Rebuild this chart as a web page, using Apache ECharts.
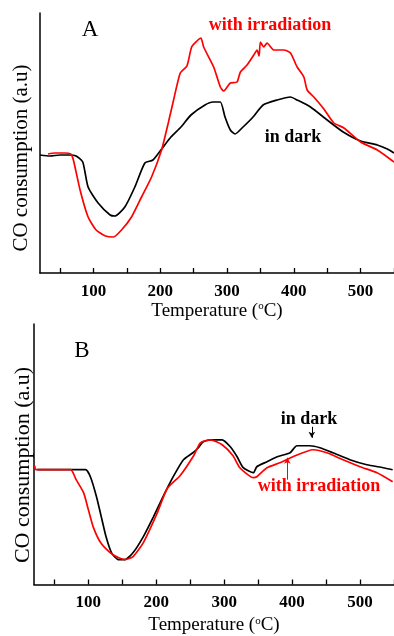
<!DOCTYPE html>
<html>
<head>
<meta charset="utf-8">
<script src="https://cdn.jsdelivr.net/npm/echarts@6/dist/echarts.min.js"></script>
<style>
  html, body { margin: 0; padding: 0; background: #fff; }
  #chart { width: 394px; height: 636px; }
</style>
</head>
<body>
<div id="chart"></div>
<script>
// Panel A: CO-TPR profiles, [temperature (°C), signal (a.u.)]
const darkA = [
  [20,118],[35,117],[50,118],[65,118],[74,117],[84,111],[92,86],[107,70],[125,58],[132,57],
  [147,66],[162,86],[177,110],[189,113],[201,123],[216,136],[231,146],[246,158],[267,168],
  [279,171],[290,171],[297,156],[305,143],[312,139],[324,146],[339,156],[354,168],[375,173],
  [395,176],[405,173],[425,166],[450,153],[474,141],[500,132],[525,128],[540,124],[550,120]
];
const irradA = [
  [32,119],[42,120],[57,120],[66,119],[70,113],[80,83],[92,56],[104,43],[118,37],[130,36],
  [142,43],[157,56],[172,76],[187,96],[202,123],[212,150],[220,173],[230,200],[240,207],
  [247,226],[255,232],[261,235],[265,226],[280,206],[290,186],[295,182],[305,190],[315,191],
  [320,201],[330,208],[340,218],[345,223],[348,217],[350,231],[355,226],[360,230],[370,223],
  [385,223],[395,220],[405,206],[415,196],[420,183],[430,176],[445,164],[460,150],[475,145],
  [500,131],[525,123],[550,111]
];

// Panel B
const darkB = [
  [25,115],[50,115],[75,115],[96,115],[103,108],[112,88],[119,68],[126,48],[134,32],[144,25],
  [154,25],[166,32],[181,48],[196,68],[210,88],[225,108],[240,125],[254,132],[262,137],
  [269,143],[280,145],[297,145],[309,138],[319,128],[328,117],[343,112],[348,118],[363,123],
  [378,128],[397,132],[407,139],[426,139],[441,137],[460,132],[485,125],[510,120],[534,117],
  [548,115]
];
const irradB = [
  [21,119],[23,115],[50,115],[74,115],[82,105],[93,92],[100,75],[107,58],[118,42],[132,32],
  [144,27],[154,25],[166,28],[181,42],[201,71],[216,96],[235,109],[255,129],[265,142],
  [280,145],[297,140],[313,129],[323,117],[343,107],[348,108],[363,117],[382,122],[401,128],
  [431,135],[451,132],[475,125],[500,118],[525,112],[548,103]
];

// Axis ticks and labels
const tickValues = [50,100,150,200,250,300,350,400,450,500,550];
const labelValues = [100,200,300,400,500];

// Annotation arrows in panel B: [temperature, from, to]
const darkArrowB = [429, 158, 147];
const irradArrowB = [393, 105, 127];

const SERIF = '"Liberation Serif", "Times New Roman", "DejaVu Serif", serif';

function xAxisFor(gridIndex) {
  return {
    type: 'value', gridIndex: gridIndex, min: 20, max: 550,
    axisLine: { show: true, onZero: false, lineStyle: { color: '#000', width: 1.5 } },
    axisTick: { show: true, inside: true, length: 5, customValues: tickValues,
                lineStyle: { color: '#000', width: 1.3 } },
    axisLabel: { customValues: labelValues, margin: 10, color: '#000',
                 fontFamily: SERIF, fontSize: 17, fontWeight: 'bold' },
    splitLine: { show: false },
    name: '{n|Temperature (}{s|o}{n|C)}',
    nameLocation: 'middle', nameGap: gridIndex === 0 ? 28 : 31,
    nameTextStyle: {
      rich: {
        n: { fontFamily: SERIF, fontSize: 19, color: '#000', lineHeight: 20 },
        s: { fontFamily: SERIF, fontSize: 11, color: '#000', lineHeight: 9, verticalAlign: 'top' }
      }
    }
  };
}
function yAxisFor(gridIndex, max) {
  return {
    type: 'value', gridIndex: gridIndex, min: 0, max: max,
    axisLine: { show: true, lineStyle: { color: '#000', width: 1.5 } },
    axisTick: { show: false }, axisLabel: { show: false }, splitLine: { show: false }
  };
}
function line(name, data, color, xi) {
  return {
    name: name, type: 'line', xAxisIndex: xi, yAxisIndex: xi, data: data,
    showSymbol: false, smooth: 0.2, silent: true,
    lineStyle: { color: color, width: 1.7 }
  };
}
function arrow(spec, color, xi) {
  return {
    type: 'line', xAxisIndex: xi, yAxisIndex: xi, data: [], silent: true,
    markLine: {
      silent: true, symbol: ['none', 'arrow'], symbolSize: [5, 6], label: { show: false },
      lineStyle: { color: color, width: 1, type: 'solid' },
      data: [[{ coord: [spec[0], spec[1]] }, { coord: [spec[0], spec[2]] }]]
    }
  };
}
function txt(x, y, text, size, color, weight, rot) {
  return {
    type: 'text', x: x, y: y, rotation: rot || 0,
    style: { text: text, fill: color, font: (weight || 'normal') + ' ' + size + 'px ' + SERIF,
             textAlign: 'center', textVerticalAlign: 'middle' }
  };
}

const chart = echarts.init(document.getElementById('chart'), null, { renderer: 'canvas' });
chart.setOption({
  backgroundColor: '#fff',
  animation: false,
  grid: [
    { left: 40, top: 13, width: 356, height: 260 },
    { left: 34, top: 324, width: 362, height: 261 }
  ],
  xAxis: [xAxisFor(0), xAxisFor(1)],
  yAxis: [yAxisFor(0, 260), yAxisFor(1, 261)],
  series: [
    line('in dark', darkA, '#000', 0),
    line('with irradiation', irradA, '#ff0000', 0),
    line('in dark', darkB, '#000', 1),
    line('with irradiation', irradB, '#ff0000', 1),
    arrow(darkArrowB, '#000', 1),
    arrow(irradArrowB, '#ff0000', 1)
  ],
  graphic: [
    txt(90, 30, 'A', 23, '#000'),
    txt(270, 25, 'with irradiation', 18, '#ff0000', 'bold'),
    txt(293, 137, 'in dark', 18, '#000', 'bold'),
    txt(21, 158, 'CO consumption (a.u)', 21, '#000', 'normal', Math.PI / 2),
    txt(82, 351, 'B', 23, '#000'),
    txt(309, 419, 'in dark', 18, '#000', 'bold'),
    txt(319, 486, 'with irradiation', 18, '#ff0000', 'bold'),
    txt(23, 465, 'CO consumption (a.u)', 22, '#000', 'normal', Math.PI / 2)
  ]
});
</script>
</body>
</html>
